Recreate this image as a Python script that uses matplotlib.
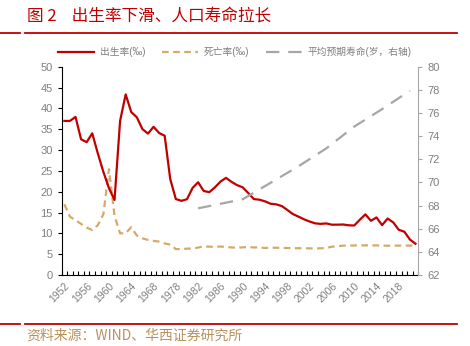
import numpy as np
import matplotlib
matplotlib.use("Agg")
import matplotlib.pyplot as plt
from matplotlib.lines import Line2D

plt.rcParams['font.family'] = ['Liberation Sans', 'Noto Sans CJK SC', 'DejaVu Sans']

# categories (years) -- 1971-1974 and 1976-1977 are absent in the source
years = list(range(1952, 1971)) + [1975] + list(range(1978, 2022))

birth = [37.0, 37.0, 37.97, 32.6, 31.9, 34.03, 29.22, 24.78, 20.86, 18.02,
         37.01, 43.37, 39.14, 37.88, 35.05, 33.96, 35.59, 34.11, 33.43,
         23.01,
         18.25, 17.82, 18.21, 20.91, 22.28, 20.19, 19.9, 21.04, 22.43, 23.33,
         22.37, 21.58, 21.06, 19.68, 18.24, 18.09, 17.7, 17.12, 16.98, 16.57,
         15.64, 14.64, 14.03, 13.38, 12.86, 12.41, 12.29, 12.4, 12.09, 12.1,
         12.14, 11.95, 11.9, 13.27, 14.57, 13.03, 13.83, 11.99, 13.57, 12.64,
         10.86, 10.41, 8.52, 7.52]

death = [17.0, 14.0, 13.18, 12.28, 11.4, 10.8, 11.98, 14.59, 25.43, 14.24,
         10.02, 10.04, 11.5, 9.5, 8.83, 8.43, 8.21, 8.03, 7.6,
         7.32,
         6.25, 6.21, 6.34, 6.36, 6.6, 6.9, 6.82, 6.78, 6.86, 6.72,
         6.64, 6.54, 6.67, 6.7, 6.64, 6.64, 6.49, 6.57, 6.56, 6.51,
         6.5, 6.46, 6.45, 6.43, 6.41, 6.4, 6.42, 6.51, 6.81, 6.93,
         7.06, 7.08, 7.11, 7.14, 7.13, 7.13, 7.12, 7.07, 7.04, 7.06,
         7.08, 7.09, 7.07, 7.18]

life_years = [1982, 1990, 2000, 2005, 2010, 2015, 2020]
life = [67.77, 68.55, 71.40, 72.95, 74.83, 76.34, 77.93]

red = '#C00000'
tan = '#D4AA6A'
grey = '#A6A6A6'
txt = '#7F7F7F'

x = np.arange(len(years))
xl = [years.index(y) for y in life_years]

fig = plt.figure(figsize=(4.7, 3.46), dpi=100)
ax = fig.add_axes([0.131, 0.205, 0.759, 0.602])
ax2 = ax.twinx()

l1, = ax.plot(x, birth, color=red, lw=1.6, label='出生率(‰)', zorder=3)
l2, = ax.plot(x, death, color=tan, lw=1.6, dashes=(3, 2), label='死亡率(‰)')
l3, = ax2.plot(xl, life, color=grey, lw=1.6, dashes=(6, 4), label='平均预期寿命(岁，右轴)')

ax.set_xlim(-0.5, len(years) - 0.5)
ax.set_ylim(0, 50)
ax.set_yticks(np.arange(0, 51, 5))
ax2.set_ylim(62, 80)
ax2.set_yticks(np.arange(62, 81, 2))

ax.set_xticks(x[::4])
ax.set_xticklabels([str(y) for y in years[::4]], rotation=45, ha='right',
                   rotation_mode='anchor', fontsize=7.5, color=txt)
ax.tick_params(axis='x', length=0, pad=4)
ax.set_xticks(np.arange(-0.5, len(years), 1), minor=True)
ax.tick_params(axis='x', which='minor', direction='in', length=3, width=0.8)

ax.tick_params(axis='y', labelsize=8, colors='black', labelcolor=txt, length=3, width=0.8)
ax2.tick_params(axis='y', labelsize=8, colors=grey, labelcolor=txt, length=3, width=0.8)

ax.spines['top'].set_visible(False)
ax2.spines['top'].set_visible(False)
ax2.spines['left'].set_visible(False)
ax2.spines['bottom'].set_visible(False)
ax.spines['right'].set_visible(False)
ax2.spines['right'].set_color(grey)

fig.legend(handles=[l1, l2, l3], loc='center', bbox_to_anchor=(0.5, 0.85),
           ncol=3, frameon=False, fontsize=7, labelcolor=txt,
           handlelength=3.7, handletextpad=0.6, columnspacing=1.7)

# title and separators
fig.text(0.057, 0.95, '图 2    出生率下滑、人口寿命拉长', color=red, fontsize=12,
         family=['Noto Sans CJK SC', 'DejaVu Sans'], va='center')
for yy in (0.904, 0.064):
    fig.add_artist(Line2D([0.0, 0.043], [yy, yy], color=red, lw=1.3))
    fig.add_artist(Line2D([0.053, 0.973], [yy, yy], color=red, lw=1.3))
fig.text(0.057, 0.03, '资料来源：WIND、华西证券研究所', color='#B8925A', fontsize=10,
         family=['Noto Sans CJK SC', 'DejaVu Sans'], va='center')

fig.savefig('out.png', dpi=100)
